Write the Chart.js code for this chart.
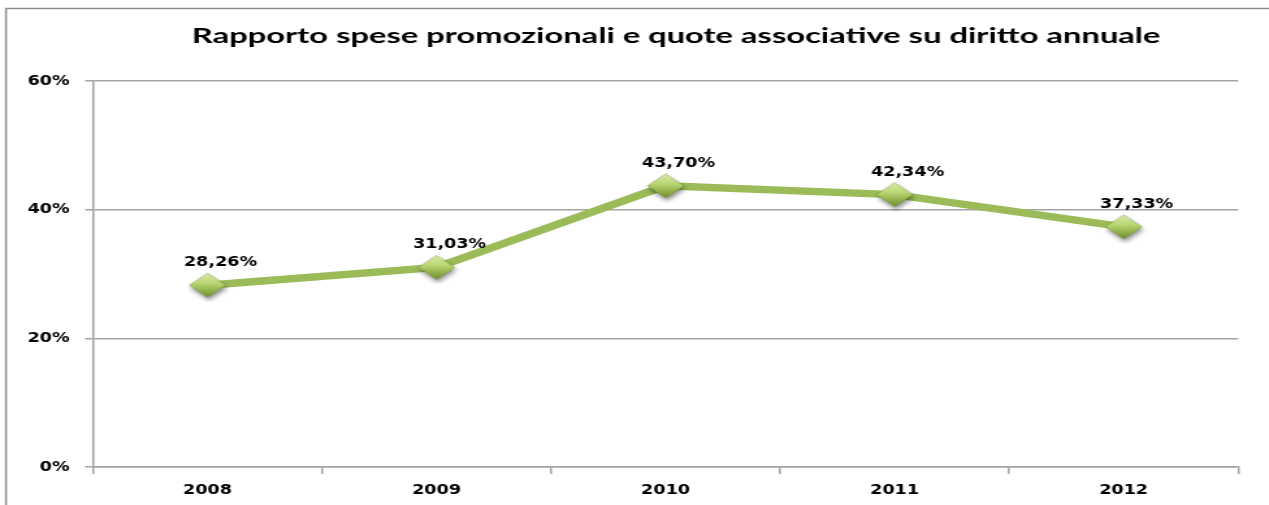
<!DOCTYPE html>
<html>
<head>
<meta charset="utf-8">
<title>Rapporto spese promozionali</title>
<script src="https://cdn.jsdelivr.net/npm/chart.js@4.4.0/dist/chart.umd.min.js"></script>
<style>
  html, body { margin: 0; padding: 0; background: #fff; overflow: hidden; }
  /* the sheet is rendered narrow and stretched wide, like the original export */
  #wrap { width: 976px; height: 505px; transform: scaleX(1.3002); transform-origin: 0 0; }
</style>
</head>
<body>
<div id="wrap"><canvas id="myChart" width="976" height="505"></canvas></div>
<script>
const years = ['2008', '2009', '2010', '2011', '2012'];
const ratios = [28.26, 31.03, 43.70, 42.34, 37.33];
const yTicks = [0, 20, 40, 60];
const chartTitle = 'Rapporto spese promozionali e quote associative su diritto annuale';

const GREEN = '#9bbb59';
const GRID = '#a3a3a3';
const LABEL_FONT = { family: 'DejaVu Sans', weight: 'bold', size: 13.5 };

// bevelled diamond marker with a soft drop shadow
function makeDiamond() {
  const c = document.createElement('canvas');
  c.width = 38; c.height = 34;
  const g = c.getContext('2d');
  const cx = 19, cy = 17, hw = 14, hh = 12;
  const path = () => {
    g.beginPath();
    g.moveTo(cx, cy - hh); g.lineTo(cx + hw, cy); g.lineTo(cx, cy + hh); g.lineTo(cx - hw, cy);
    g.closePath();
  };
  g.save();
  g.shadowColor = 'rgba(0,0,0,0.45)';
  g.shadowBlur = 4;
  g.shadowOffsetX = 1;
  g.shadowOffsetY = 3;
  path();
  const grad = g.createLinearGradient(0, cy - hh, 0, cy + hh);
  grad.addColorStop(0, '#dcebaa');
  grad.addColorStop(0.4, '#bcd876');
  grad.addColorStop(0.6, '#a0c058');
  grad.addColorStop(1, '#6f8e2e');
  g.fillStyle = grad;
  g.fill();
  g.restore();
  g.strokeStyle = 'rgba(110,140,45,0.55)';
  g.lineWidth = 0.8;
  path();
  g.stroke();
  return c;
}

const frameAndTitle = {
  id: 'frameAndTitle',
  beforeDraw(chart) {
    const ctx = chart.ctx;
    ctx.save();
    ctx.fillStyle = '#fff';
    ctx.fillRect(0, 0, chart.width, chart.height);
    ctx.strokeStyle = '#8c8c8c';
    ctx.lineWidth = 1.5;
    ctx.beginPath();
    ctx.moveTo(4.6, chart.height);
    ctx.lineTo(4.6, 8.5);
    ctx.lineTo(chart.width, 8.5);
    ctx.stroke();

    ctx.font = 'bold 20.5px Lato';
    ctx.fillStyle = '#000';
    ctx.textAlign = 'center';
    ctx.textBaseline = 'alphabetic';
    const w = ctx.measureText(chartTitle).width;
    ctx.translate(520, 43);
    ctx.scale(745 / w, 1);
    ctx.fillText(chartTitle, 0, 0);
    ctx.restore();
  }
};

const valueLabels = {
  id: 'valueLabels',
  afterDatasetsDraw(chart) {
    const ctx = chart.ctx;
    const meta = chart.getDatasetMeta(0);
    ctx.save();
    ctx.font = `${LABEL_FONT.weight} ${LABEL_FONT.size}px "${LABEL_FONT.family}"`;
    ctx.fillStyle = '#000';
    ctx.textAlign = 'center';
    ctx.textBaseline = 'alphabetic';
    meta.data.forEach((pt, i) => {
      const txt = ratios[i].toFixed(2).replace('.', ',') + '%';
      ctx.fillText(txt, pt.x + 10, pt.y - 19);
    });
    ctx.restore();
  }
};

new Chart(document.getElementById('myChart'), {
  type: 'line',
  data: {
    labels: years,
    datasets: [{
      data: ratios,
      borderColor: GREEN,
      borderWidth: 7.5,
      tension: 0,
      pointStyle: makeDiamond(),
      pointRadius: 14,
      pointHoverRadius: 14
    }]
  },
  options: {
    responsive: false,
    animation: false,
    devicePixelRatio: 1,
    layout: { padding: { top: 81, right: 23.7, bottom: 0, left: 0 } },
    plugins: {
      legend: { display: false },
      title: { display: false },
      tooltip: { enabled: false }
    },
    scales: {
      x: {
        offset: true,
        afterFit(scale) { scale.height = 38; },
        grid: {
          offset: true,
          drawOnChartArea: false,
          drawTicks: true,
          tickLength: 7,
          color: GRID,
          lineWidth: 1.5
        },
        border: { color: GRID, width: 1.5 },
        ticks: { color: '#000', font: LABEL_FONT, padding: 8, maxRotation: 0 }
      },
      y: {
        min: 0,
        max: 60,
        afterFit(scale) { scale.width = 71.5; },
        afterBuildTicks(scale) { scale.ticks = yTicks.map(v => ({ value: v })); },
        grid: { color: GRID, lineWidth: 1.5, tickLength: 6 },
        border: { color: GRID, width: 1.5 },
        ticks: {
          color: '#000',
          font: LABEL_FONT,
          padding: 12,
          callback: v => v + '%'
        }
      }
    }
  },
  plugins: [frameAndTitle, valueLabels]
});
</script>
</body>
</html>
